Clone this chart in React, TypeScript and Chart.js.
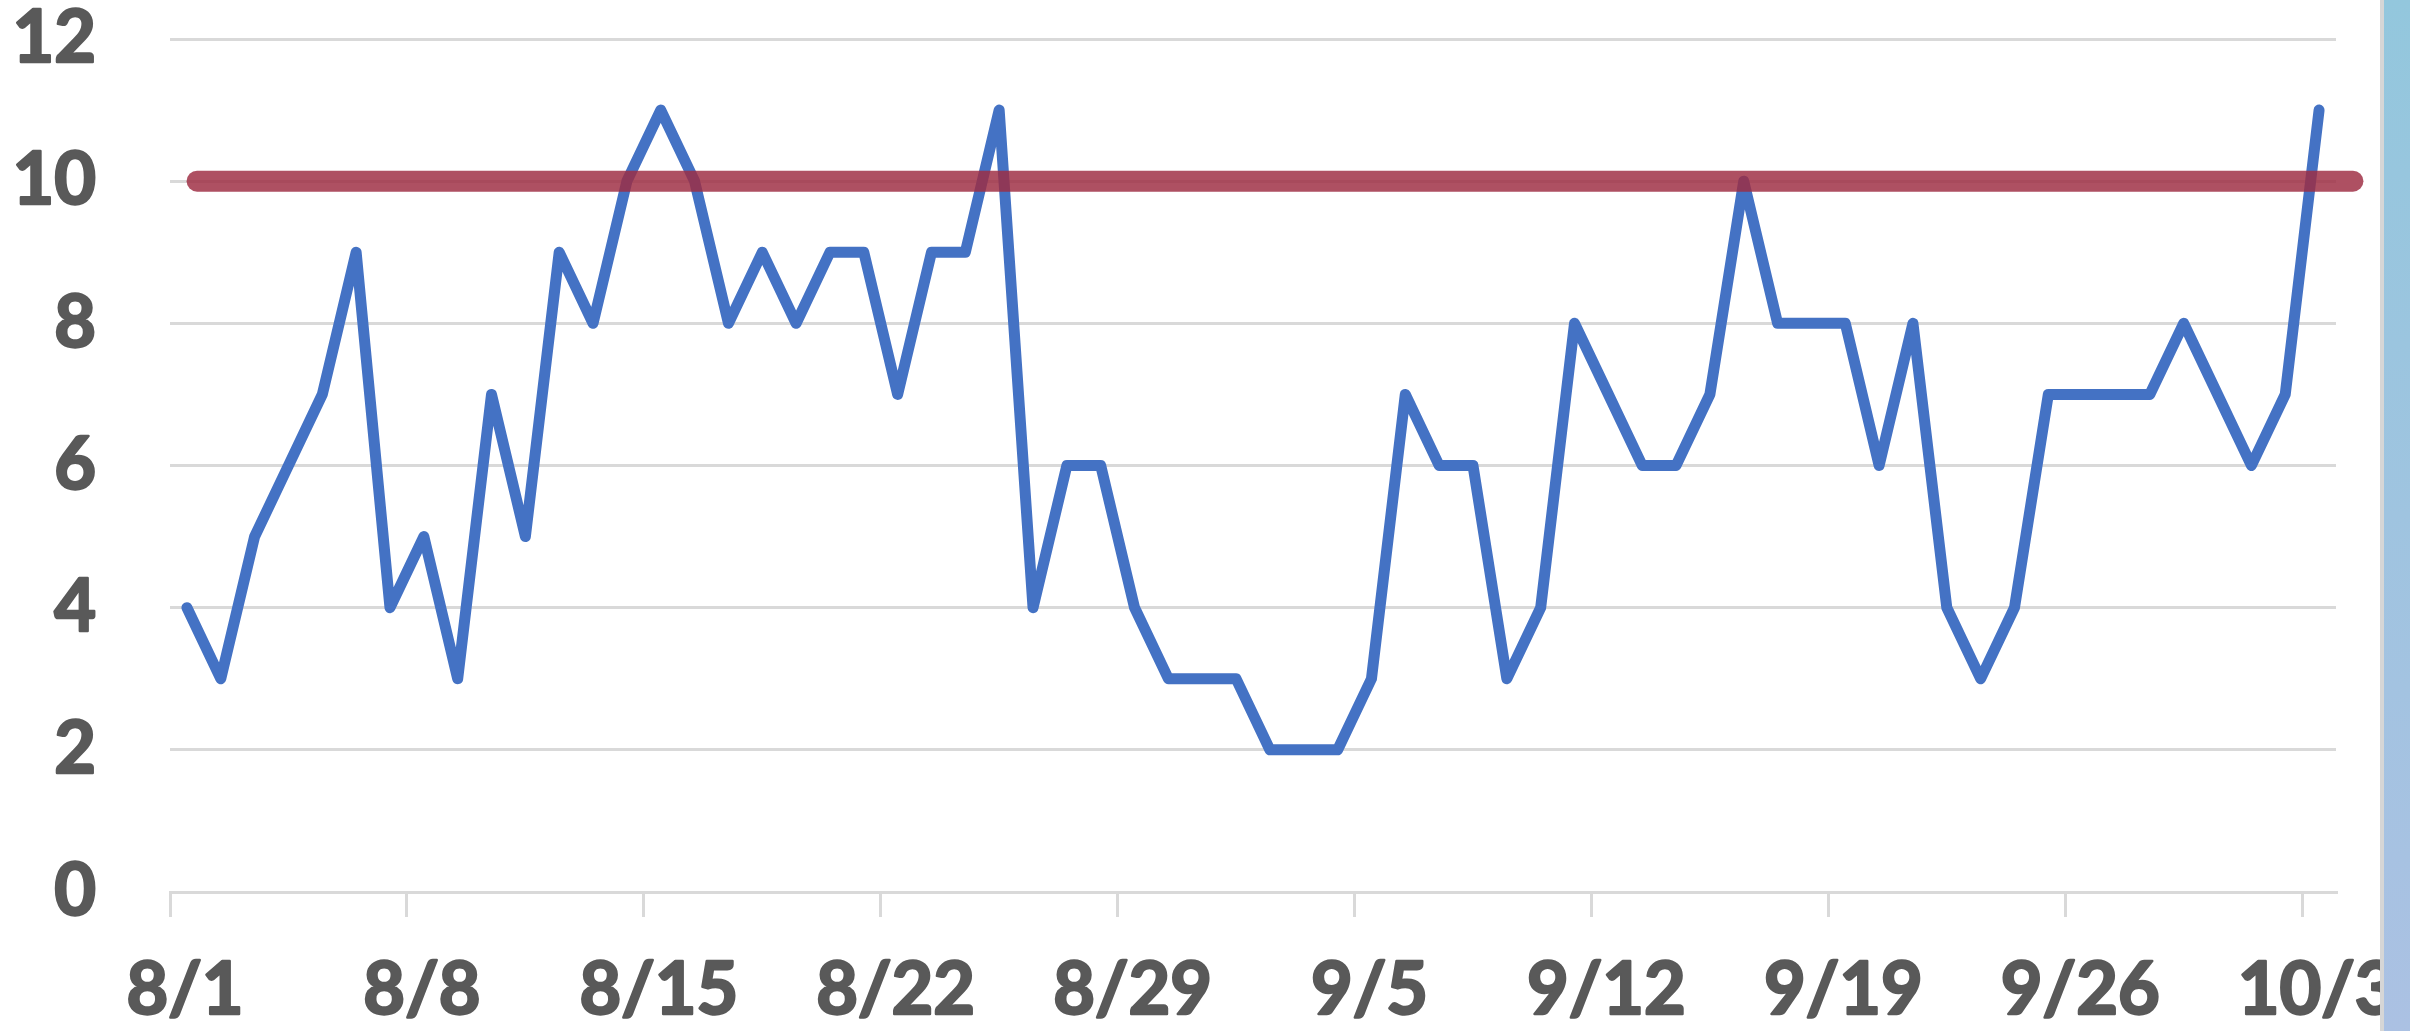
import React, { useEffect, useRef } from 'react';
import { Chart, registerables } from 'chart.js';

Chart.register(...registerables);

const dates = [
  '8/1', '8/2', '8/3', '8/4', '8/5', '8/6', '8/7', '8/8', '8/9', '8/10',
  '8/11', '8/12', '8/13', '8/14', '8/15', '8/16', '8/17', '8/18', '8/19', '8/20',
  '8/21', '8/22', '8/23', '8/24', '8/25', '8/26', '8/27', '8/28', '8/29', '8/30',
  '8/31', '9/1', '9/2', '9/3', '9/4', '9/5', '9/6', '9/7', '9/8', '9/9',
  '9/10', '9/11', '9/12', '9/13', '9/14', '9/15', '9/16', '9/17', '9/18', '9/19',
  '9/20', '9/21', '9/22', '9/23', '9/24', '9/25', '9/26', '9/27', '9/28', '9/29',
  '9/30', '10/1', '10/2', '10/3',
];

const values = [
  4, 3, 5, 6, 7, 9, 4, 5, 3, 7,
  5, 9, 8, 10, 11, 10, 8, 9, 8, 9,
  9, 7, 9, 9, 11, 4, 6, 6, 4, 3,
  3, 3, 2, 2, 2, 3, 7, 6, 6, 3,
  4, 8, 7, 6, 6, 7, 10, 8, 8, 8,
  6, 8, 4, 3, 4, 7, 7, 7, 7, 8,
  7, 6, 7, 11,
];

const tickLabels = ['8/1', '8/8', '8/15', '8/22', '8/29', '9/5', '9/12', '9/19', '9/26', '10/3'];
const yTicks = [0, 2, 4, 6, 8, 10, 12];

const threshold = 10;
const thresholdSpan = [0.8, 64.5];

const roundJoinPlugin = {
  id: 'roundTextJoin',
  beforeDraw(chart: any) {
    chart.ctx.lineJoin = 'round';
    chart.ctx.miterLimit = 2;
  },
};

export default function App() {
  const ref = useRef<HTMLCanvasElement>(null);

  useEffect(() => {
    const canvas = ref.current;
    if (!canvas) return;
    const font = { family: 'Lato', weight: 'bold' as const, size: 72, lineHeight: 1 };
    const chart = new Chart(canvas, {
      type: 'line',
      plugins: [roundJoinPlugin],
      data: {
        datasets: [
          {
            label: 'Target',
            data: thresholdSpan.map((x) => ({ x, y: threshold })),
            borderColor: 'rgba(158,45,66,0.83)',
            borderWidth: 21,
            borderCapStyle: 'round',
            pointRadius: 0,
            clip: false,
            order: 0,
          } as any,
          {
            label: 'Count',
            data: values.map((v, i) => ({ x: i + 0.5, y: v })),
            borderColor: '#4472C4',
            borderWidth: 11,
            borderJoinStyle: 'round',
            borderCapStyle: 'round',
            pointRadius: 0,
            tension: 0,
            clip: false,
            order: 1,
          } as any,
        ],
      },
      options: {
        responsive: false,
        animation: false,
        devicePixelRatio: 1,
        layout: { padding: { left: 0, right: 74, top: 39, bottom: 0 } },
        plugins: { legend: { display: false }, tooltip: { enabled: false } },
        scales: {
          x: {
            type: 'linear',
            min: 0,
            max: dates.length,
            afterBuildTicks: (s: any) => {
              s.ticks = tickLabels.map((l) => ({ value: dates.indexOf(l) }));
            },
            afterFit: (s: any) => {
              s.height = 139;
              s.paddingLeft = 0;
              s.paddingRight = 0;
            },
            grid: { drawOnChartArea: false, drawTicks: true, tickLength: 25, color: '#d9d9d9', lineWidth: 3 },
            border: { display: true, color: '#d9d9d9', width: 3 },
            ticks: {
              callback: (v: any) => dates[v as number],
              font,
              color: '#595959',
              textStrokeColor: '#595959',
              textStrokeWidth: 2.5,
              padding: 38,
              labelOffset: 15,
              maxRotation: 0,
              autoSkip: false,
            },
          },
          y: {
            type: 'linear',
            min: 0,
            max: 12,
            afterBuildTicks: (s: any) => {
              s.ticks = yTicks.map((v) => ({ value: v }));
            },
            afterFit: (s: any) => {
              s.width = 170;
              s.paddingTop = 0;
              s.paddingBottom = 0;
            },
            grid: { color: '#d9d9d9', lineWidth: 3, drawTicks: false },
            border: { display: false },
            ticks: { font, color: '#595959', textStrokeColor: '#595959', textStrokeWidth: 2.5, padding: 74 },
          },
        },
      } as any,
    });
    return () => chart.destroy();
  }, []);

  return (
    <div style={{ position: 'fixed', left: 0, top: 0, width: 2410, height: 1031, background: '#ffffff', overflow: 'hidden' }}>
      <canvas ref={ref} width={2410} height={1031} style={{ width: 2410, height: 1031, display: 'block' }} />
      <div
        style={{
          position: 'absolute',
          left: 2380,
          top: 0,
          width: 26,
          height: 1031,
          borderLeft: '4px solid #d6d6d6',
          background: 'linear-gradient(to bottom, #93c7dd, #abc1e3)',
        }}
      />
    </div>
  );
}
